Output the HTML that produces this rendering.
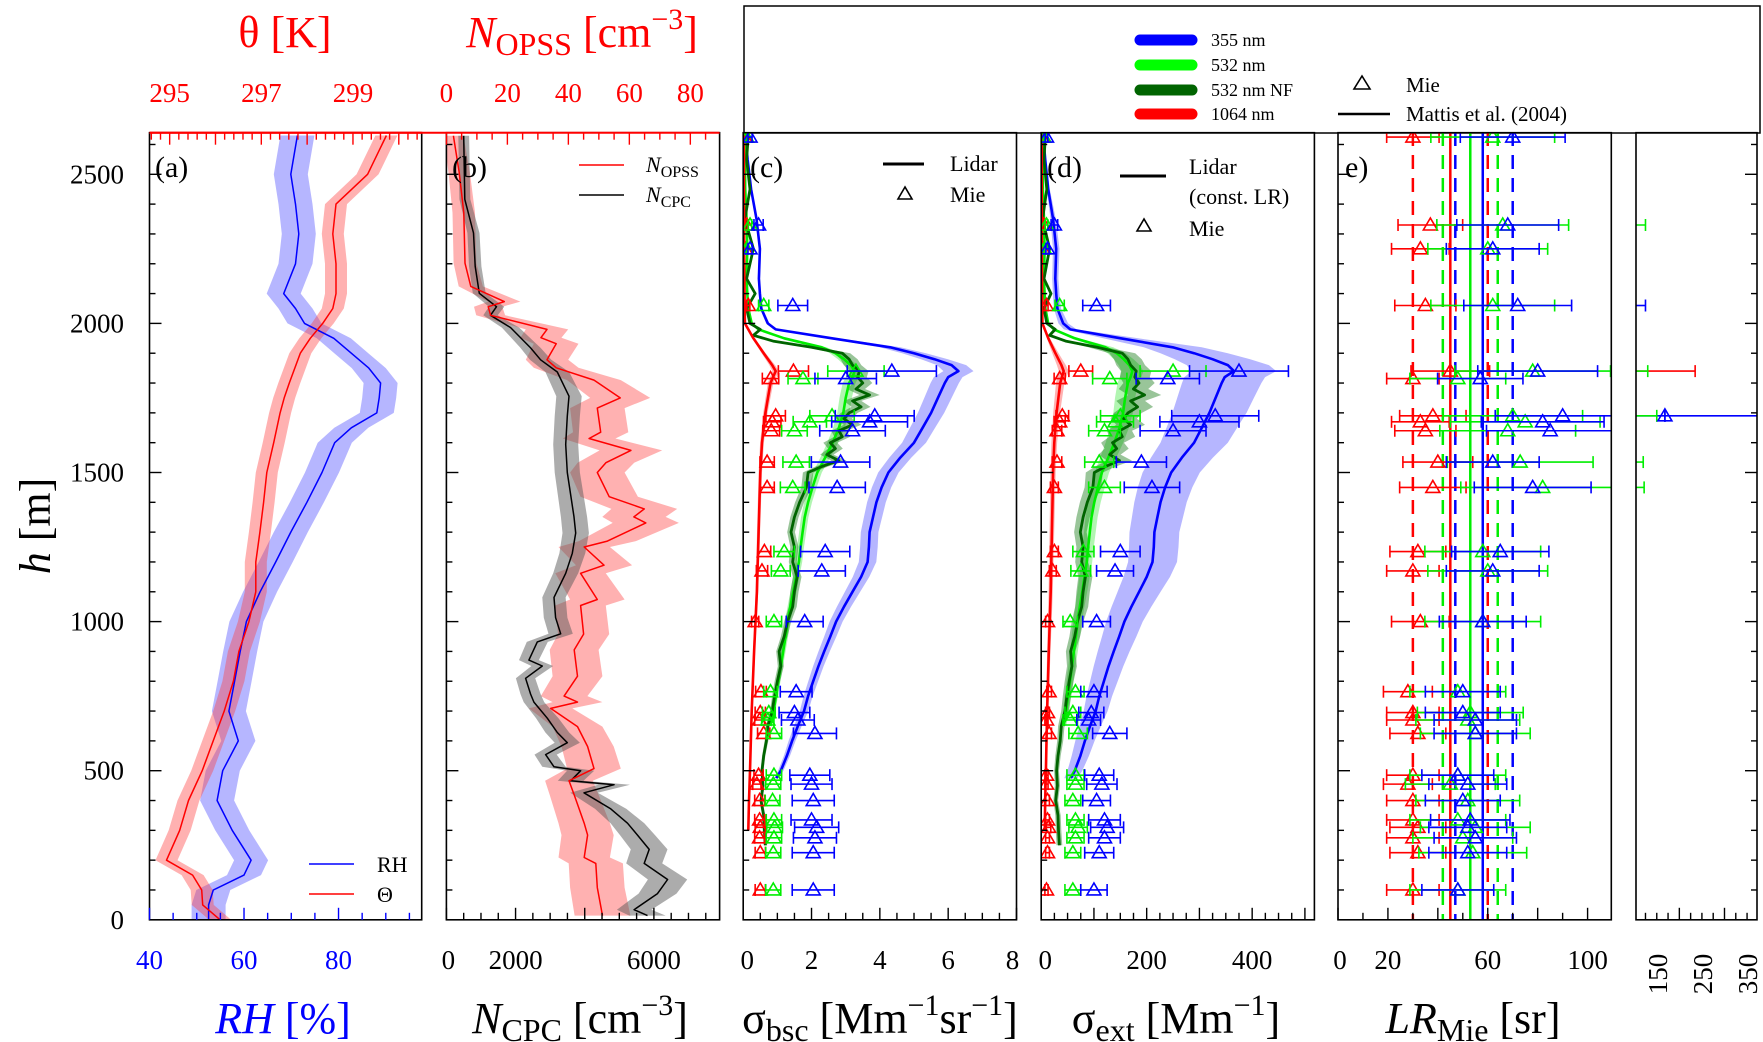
<!DOCTYPE html>
<html><head><meta charset="utf-8"><style>
body{margin:0;background:#fff;}
svg{display:block;font-family:"Liberation Serif",serif;}
</style></head><body>
<svg id="chart" width="1763" height="1042" viewBox="0 0 1763 1042" xmlns="http://www.w3.org/2000/svg">
<defs>
<clipPath id="clip-a"><rect x="149.5" y="132.7" width="272.2" height="787.1"/></clipPath>
<clipPath id="clip-b"><rect x="446.4" y="132.7" width="273.2" height="787.1"/></clipPath>
<clipPath id="clip-c"><rect x="743.2" y="132.7" width="273.3" height="787.1"/></clipPath>
<clipPath id="clip-d"><rect x="1041.2" y="132.7" width="273.2" height="787.1"/></clipPath>
<clipPath id="clip-e"><rect x="1338" y="132.7" width="273.3" height="787.1"/></clipPath>
<clipPath id="clip-f"><rect x="1636" y="132.7" width="121" height="787.1"/></clipPath>
</defs>
<rect x="744" y="6" width="1016" height="127" fill="none" stroke="#000" stroke-width="1.5"/>
<g font-size="18">
<line x1="1140" y1="40" x2="1192" y2="40" stroke="#0000ff" stroke-width="11" stroke-linecap="round"/>
<text x="1211" y="46">355 nm</text>
<line x1="1140" y1="65" x2="1192" y2="65" stroke="#00ff00" stroke-width="11" stroke-linecap="round"/>
<text x="1211" y="71">532 nm</text>
<line x1="1140" y1="90" x2="1192" y2="90" stroke="#006400" stroke-width="11" stroke-linecap="round"/>
<text x="1211" y="96">532 nm NF</text>
<line x1="1140" y1="114" x2="1192" y2="114" stroke="#ff0000" stroke-width="11" stroke-linecap="round"/>
<text x="1211" y="120">1064 nm</text>
<polygon points="1362,76 1354,89 1370,89" fill="none" stroke="#000" stroke-width="1.6"/>
<text x="1406" y="92" font-size="21">Mie</text>
<line x1="1338" y1="114" x2="1390" y2="114" stroke="#000" stroke-width="2.5"/>
<text x="1406" y="121" font-size="21">Mattis et al. (2004)</text>
</g>
<g font-size="44" fill="#ff0000">
<text x="285" y="47" text-anchor="middle">θ [K]</text>
<text x="582" y="47" text-anchor="middle"><tspan font-style="italic">N</tspan><tspan font-size="32" dy="8">OPSS</tspan><tspan dy="-8"> [cm</tspan><tspan font-size="30" dy="-18">−3</tspan><tspan dy="18">]</tspan></text>
</g>
<g font-size="44">
<text x="283" y="1033" text-anchor="middle" fill="#0000ff"><tspan font-style="italic">RH</tspan> [%]</text>
<text x="580" y="1033" text-anchor="middle"><tspan font-style="italic">N</tspan><tspan font-size="32" dy="8">CPC</tspan><tspan dy="-8"> [cm</tspan><tspan font-size="30" dy="-18">−3</tspan><tspan dy="18">]</tspan></text>
<text x="880" y="1033" text-anchor="middle">σ<tspan font-size="32" dy="8">bsc</tspan><tspan dy="-8"> [Mm</tspan><tspan font-size="30" dy="-18">−1</tspan><tspan dy="18">sr</tspan><tspan font-size="30" dy="-18">−1</tspan><tspan dy="18">]</tspan></text>
<text x="1176" y="1033" text-anchor="middle">σ<tspan font-size="32" dy="8">ext</tspan><tspan dy="-8"> [Mm</tspan><tspan font-size="30" dy="-18">−1</tspan><tspan dy="18">]</tspan></text>
<text x="1473" y="1033" text-anchor="middle"><tspan font-style="italic">LR</tspan><tspan font-size="32" dy="8">Mie</tspan><tspan dy="-8"> [sr]</tspan></text>
<text x="0" y="0" transform="translate(50,526) rotate(-90)" text-anchor="middle"><tspan font-style="italic">h</tspan> [m]</text>
</g>
<g id="plot"></g>
</svg>
<script>
// ---------- Data ----------
// Panel a
const hA=[2630,2500,2400,2300,2200,2100,2050,2000,1950,1900,1850,1800,1750,1700,1650,1600,1500,1400,1300,1200,1100,1000,900,800,700,600,500,400,300,200,150,100,50,0];
const rhVals=[71.3,69.9,70.9,71.6,70.9,68.4,70.9,72.8,79,82.7,86.4,88.9,88.6,88.1,82.7,79.2,76.5,73.3,69.9,66.7,63.4,60.5,59.2,58,56.8,58.8,55.5,54.3,57.5,61.5,60,53.5,52.5,52.5];
const thetaVals=[299.73,299.32,298.63,298.56,298.63,298.63,298.56,298.34,298.07,297.85,297.73,297.61,297.5,297.41,297.34,297.27,297.12,297.05,296.97,296.88,296.88,296.73,296.51,296.39,296.19,295.95,295.71,295.41,295.22,294.93,295.5,295.7,295.72,296.1];
// Panel b
const hOpss=[2629,2506,2371,2202,2124,2073,2056,2027,1980,1952,1932,1878,1851,1810,1750,1716,1635,1614,1574,1533,1500,1419,1378,1351,1331,1270,1250,1189,1162,1074,1054,958,905,817,750,730,709,648,581,507,466,419,324,284,209,189,108,14];
const opssVals=[2.3,4.2,5.7,6.1,8,19,13.7,14.5,33,31,36,33,36,48.4,57,49.5,50.6,46.8,60.5,52.3,49.5,53.4,64.9,61.5,65.4,52.8,45.2,51.7,44,49.5,44,45,41.9,43,38.6,43,34.2,43,46.3,48.4,40.2,41.9,45.2,46.3,45.2,49,49.5,51.2];
const hCpc=[2629,2416,2303,2191,2101,2056,2027,1986,1918,1878,1837,1756,1689,1594,1500,1351,1297,1229,1162,1081,1013,959,932,871,851,810,757,730,676,628,594,554,513,500,466,453,426,372,324,284,236,189,135,88,34,14];
const cpcVals=[500,533,783,833,950,1450,1275,1855,2434,2724,3207,3545,3497,3449,3497,3690,3738,3642,3449,3110,3159,3304,2628,2386,2772,2289,2434,2531,2917,3207,3497,2869,3110,3883,3594,4849,3980,4753,5236,5526,5864,5719,6395,6105,5429,5815];
// Panels c/d lidar profiles
const hL=[2630,2550,2450,2350,2250,2150,2100,2050,2000,1980,1950,1920,1900,1880,1860,1840,1820,1800,1750,1700,1650,1600,1550,1500,1450,1400,1350,1300,1250,1200,1150,1100,1050,1000,950,900,850,800,750,700,650,600,550,500,475];
const bsc355=[0.07,0.13,0.23,0.39,0.49,0.46,0.49,0.53,0.72,0.95,2.6,4.3,5.0,5.6,6.1,6.3,6.0,5.9,5.7,5.5,5.25,5.0,4.6,4.25,4.05,3.9,3.8,3.7,3.68,3.64,3.45,3.2,2.95,2.72,2.55,2.37,2.2,2.05,1.9,1.78,1.6,1.43,1.28,1.1,0.97];
const bsc532=[0.05,0.05,0.06,0.1,0.12,0.1,0.12,0.15,0.25,0.45,1.2,2.3,2.7,2.95,3.15,3.26,3.2,3.1,3.0,2.93,2.8,2.62,2.4,2.17,2.03,1.9,1.8,1.74,1.68,1.63,1.55,1.47,1.38,1.3,1.24,1.17,1.1,1.03,0.96,0.89,0.8,null,null,null,null];
const hR=[2630,2400,2200,2000,1950,1900,1860,1840,1800,1700,1600,1500,1300,1100,900,700,500,400,300];
const bsc1064=[0.02,0.02,0.03,0.05,0.3,0.6,0.85,0.95,0.8,0.65,0.55,0.5,0.45,0.4,0.32,0.25,0.2,0.17,0.15];
const hNF=[2630,2550,2450,2350,2250,2150,2100,2050,2000,1980,1960,1940,1920,1900,1880,1860,1840,1820,1800,1780,1760,1740,1720,1700,1680,1660,1640,1620,1600,1580,1560,1540,1520,1500,1450,1400,1350,1300,1250,1200,1150,1100,1050,1000,950,900,850,800,750,700,650,600,550,500,450,400,350,300,250];
const bscNF=[0.15,0.1,0.2,0.05,0.3,0.1,0.35,0.1,0.2,0.5,0.3,0.9,2.0,2.9,3.1,3.2,3.4,3.35,3.5,3.3,3.7,3.2,3.45,3.1,2.95,3.2,2.8,2.9,2.55,2.7,2.45,2.8,2.3,1.9,1.85,1.65,1.5,1.4,1.5,1.45,1.58,1.5,1.45,1.3,1.2,1.05,1.1,1.0,0.92,0.85,0.72,0.68,0.6,0.55,0.58,0.52,0.6,0.62,0.65];
// Mattis et al. (2004) lidar ratios: mean, low, high
const mattisMean=[58,53,45];
const mattisLow=[47,42,30];
const mattisHigh=[70,64,60];
// Mie values
const mieH=[2625,2330,2250,2060,1840,1815,1690,1670,1640,1535,1450,1235,1170,1000,765,695,670,625,485,455,400,335,310,275,225,100];
const mieBsc355=[0.2,0.45,0.2,1.45,4.35,3.0,3.85,3.7,3.2,2.85,2.75,2.4,2.3,1.8,1.55,1.5,1.6,2.1,1.95,2.0,2.05,2.0,2.15,2.1,2.05,2.05];
const mieBsc532=[0.1,0.2,0.1,0.6,3.3,1.75,2.6,1.95,1.5,1.55,1.45,1.2,1.1,0.9,0.8,0.75,0.72,0.9,0.9,0.88,0.86,0.9,0.92,0.9,0.88,0.88];
const mieBsc1064=[0.05,0.1,0.06,0.15,1.47,0.8,0.95,0.85,0.82,0.7,0.7,0.62,0.55,0.35,0.52,0.5,0.48,0.6,0.45,0.4,0.48,0.48,0.5,0.48,0.5,0.5];
const mieExt355=[10,25,12,105,375,240,330,300,250,190,210,150,140,105,100,95,90,130,110,115,105,120,125,120,110,100];
const mieExt532=[5,10,6,35,250,130,150,140,120,110,120,80,75,55,65,60,55,70,65,65,60,65,70,65,60,60];
const mieExt1064=[2,5,3,10,75,35,40,35,30,30,25,25,22,12,15,12,10,15,10,10,12,12,14,12,12,10];
const mieLR355=[70,68,62,72,80,57,90,82,85,62,78,65,62,58,50,50,55,55,48,52,50,53,52,55,52,48];
const mieLR532=[62,66,60,62,78,48,70,75,68,73,82,58,60,58,48,53,52,55,48,45,52,48,55,50,54,48];
const mieLR1064=[30,37,33,35,45,30,38,33,35,40,38,32,30,33,28,30,30,32,30,28,30,30,32,30,32,30];
// LR values beyond 110 sr (right panel)
const farH=[2330,2060,1840,1840,1690,1690,1535,1450];
const farVal=[125,125,235,130,168,150,120,122];
const farColor=['g','b','r','g','b','g','g','g'];

// ---------- Scales ----------
const NS='http://www.w3.org/2000/svg';
const root=document.getElementById('plot');
function mk(tag,attrs,parent){const e=document.createElementNS(NS,tag);for(const k in attrs)e.setAttribute(k,attrs[k]);(parent||root).appendChild(e);return e;}
const Y0=919.8,YS=0.2982;
function yOf(h){return Y0-h*YS;}
const P={
 a:{x0:149.5,x1:421.7,d:[40,97.6]}, aT:{x0:149.5,x1:421.7,d:[294.56,300.5]},
 b:{x0:446.4,x1:719.6,d:[0,7900]}, bT:{x0:446.4,x1:719.6,d:[0,89.6]},
 c:{x0:743.2,x1:1016.5,d:[0,8]}, d:{x0:1041.2,x1:1314.4,d:[0,518]},
 e:{x0:1338,x1:1611.3,d:[0,109.5]}, f:{x0:1636,x1:1757,d:[104,372]}};
function xOf(p,v){return p.x0+(v-p.d[0])/(p.d[1]-p.d[0])*(p.x1-p.x0);}
const COL={b:'#0000ff',g:'#00ee00',n:'#006400',r:'#ff0000',k:'#000000'};
const BAND={b:'rgba(80,80,255,0.42)',g:'rgba(60,230,60,0.4)',n:'rgba(0,110,0,0.4)',r:'rgba(255,60,60,0.4)',k:'rgba(90,90,90,0.5)'};

function group(clip){const g=mk('g',clip?{'clip-path':'url(#clip-'+clip+')'}:{});return g;}
function line(p,hs,vs,col,w,g){
 const pts=[];for(let i=0;i<hs.length;i++){if(vs[i]==null)continue;pts.push(xOf(p,vs[i]).toFixed(1)+','+yOf(hs[i]).toFixed(1));}
 return mk('polyline',{points:pts.join(' '),fill:'none',stroke:col,'stroke-width':w,'stroke-linejoin':'round'},g);}
function band(p,hs,vs,fr,ab,col,g){
 const a=[],b=[];for(let i=0;i<hs.length;i++){if(vs[i]==null)continue;const dv=Math.abs(vs[i])*fr+ab;a.push(xOf(p,vs[i]-dv).toFixed(1)+','+yOf(hs[i]).toFixed(1));b.unshift(xOf(p,vs[i]+dv).toFixed(1)+','+yOf(hs[i]).toFixed(1));}
 return mk('polygon',{points:a.concat(b).join(' '),fill:col,stroke:'none'},g);}
function tri(x,y,col,g){return mk('polygon',{points:`${x},${y-7} ${x-7},${y+5} ${x+7},${y+5}`,fill:'none',stroke:col,'stroke-width':1.6},g);}
function errbar(p,h,lo,hi,col,g){
 const y=yOf(h),x1=xOf(p,lo),x2=xOf(p,hi);
 mk('line',{x1:x1,y1:y,x2:x2,y2:y,stroke:col,'stroke-width':1.6},g);
 mk('line',{x1:x1,y1:y-6,x2:x1,y2:y+6,stroke:col,'stroke-width':1.6},g);
 mk('line',{x1:x2,y1:y-6,x2:x2,y2:y+6,stroke:col,'stroke-width':1.6},g);}

// ---------- Panel a ----------
let g=group('a');


band(P.a,hA,rhVals,0,3.6,BAND.b,g);
band(P.aT,hA,thetaVals,0,0.24,BAND.r,g);
let e=line(P.a,hA,rhVals,COL.b,1.5,g);


e=line(P.aT,hA,thetaVals,COL.r,1.5,g);



// ---------- Panel b ----------
g=group('b');


band(P.bT,hOpss,opssVals,0.12,3,BAND.r,g);
band(P.b,hCpc,cpcVals,0.07,120,BAND.k,g);
e=line(P.b,hCpc,cpcVals,COL.k,1.5,g);


e=line(P.bT,hOpss,opssVals,COL.r,1.5,g);



// ---------- Panels c & d ----------
function lidarPanel(p,clip,scale,fr){
 const gg=group(clip);
 
 
 const s=(arr,k)=>arr.map(v=>v==null?null:v*k);
 band(p,hL,s(bsc355,scale[0]),fr[0],0,BAND.b,gg);
 band(p,hL,s(bsc532,scale[1]),fr[1],0,BAND.g,gg);
 band(p,hNF,s(bscNF,scale[1]),fr[2],0,BAND.n,gg);
 band(p,hR,s(bsc1064,scale[2]),fr[3],0,BAND.r,gg);
 let l=line(p,hL,s(bsc355,scale[0]),COL.b,2.6,gg);
 
 
 l=line(p,hL,s(bsc532,scale[1]),COL.g,2.6,gg);
 
 
 l=line(p,hNF,s(bscNF,scale[1]),COL.n,2.8,gg);
 
 
 l=line(p,hR,s(bsc1064,scale[2]),COL.r,2.6,gg);
 
 
 return gg;}
const gc=lidarPanel(P.c,'c',[1,1,1],[0.07,0.06,0.08,0.1]);
const gd=lidarPanel(P.d,'d',mattisMean,[0.22,0.12,0.16,0.22]);

function miePanel(p,gg,sets,fr){
 for(let s=0;s<sets.length;s++){
  const [vals,col,name]=sets[s];
  for(let i=0;i<mieH.length;i++){
   const v=vals[i],dv=v*fr[s];
   errbar(p,mieH[i],v-dv,v+dv,COL[col],gg);
   const t=tri(xOf(p,v),yOf(mieH[i]),COL[col],gg);
   
   
  }}}
miePanel(P.c,gc,[[mieBsc1064,'r','1064'],[mieBsc532,'g','532'],[mieBsc355,'b','355']],[0.3,0.25,0.3]);
miePanel(P.d,gd,[[mieExt1064,'r','1064'],[mieExt532,'g','532'],[mieExt355,'b','355']],[0.3,0.25,0.25]);

// ---------- Panel e ----------
const ge=group('e');


const mCols=['b','g','r'];
for(let k=0;k<3;k++){
 const xm=xOf(P.e,mattisMean[k]);
 e=mk('line',{x1:xm,y1:132,x2:xm,y2:920,stroke:COL[mCols[k]],'stroke-width':2.5},ge);
 
 for(const v of [mattisLow[k],mattisHigh[k]]){
  const x=xOf(P.e,v);
  e=mk('line',{x1:x,y1:132,x2:x,y2:920,stroke:COL[mCols[k]],'stroke-width':2.5,'stroke-dasharray':'14,9'},ge);
  
 }}
miePanel(P.e,ge,[[mieLR1064,'r','1064'],[mieLR532,'g','532'],[mieLR355,'b','355']],[0.35,0.4,0.3]);

// ---------- Panel f ----------
const gf=group('f');


for(let i=0;i<farH.length;i++){
 const x=xOf(P.f,farVal[i]),y=yOf(farH[i]);
 e=mk('line',{x1:P.f.x0,y1:y,x2:x,y2:y,stroke:COL[farColor[i]],'stroke-width':1.6},gf);
 
 mk('line',{x1:x,y1:y-6,x2:x,y2:y+6,stroke:COL[farColor[i]],'stroke-width':1.6},gf);
}
e=tri(xOf(P.f,farVal[4]),yOf(farH[4]),COL.b,gf);

errbar(P.f,farH[4],farVal[4],390,COL.b,gf);

// ---------- Frames, ticks, labels ----------
const fr=mk('g',{});


for(const k of ['a','b','c','d','e','f']){
 const p=P[k];
 e=mk('rect',{x:p.x0,y:132.7,width:p.x1-p.x0,height:787.1,fill:'none',stroke:'#000','stroke-width':1.6},fr);
 
 // height ticks
 const right=(k==='f');
 for(let h=0;h<=2600;h+=100){
  const y=yOf(h),L=(h%500===0)?12:6;
  const x=right?p.x1:p.x0;
  mk('line',{x1:x,y1:y,x2:right?x-L:x+L,y2:y,stroke:'#000','stroke-width':1.4},fr);
 }}
function xticks(p,minor,major,y,dir,col){
 for(let v=Math.ceil(p.d[0]/minor)*minor;v<=p.d[1]+1e-9;v+=minor){
  const x=xOf(p,v),isM=Math.abs(v/major-Math.round(v/major))<1e-6;
  mk('line',{x1:x,y1:y,x2:x,y2:y+dir*(isM?12:7),stroke:col,'stroke-width':1.4},fr);
 }}
xticks(P.a,5,20,919.8,-1,'#0000ff');
xticks(P.aT,0.2,1,132.7,1,'#ff0000');
xticks(P.b,500,2000,919.8,-1,'#000');
xticks(P.bT,5,20,132.7,1,'#ff0000');
xticks(P.c,0.5,2,919.8,-1,'#000');
xticks(P.d,25,100,919.8,-1,'#000');
xticks(P.e,10,20,919.8,-1,'#000');
xticks(P.f,25,100,919.8,-1,'#000');
mk('line',{x1:P.aT.x0,y1:132.7,x2:P.bT.x1,y2:132.7,stroke:'#ff0000','stroke-width':2},fr);
mk('line',{x1:P.a.x0,y1:132.7,x2:P.a.x1,y2:132.7,stroke:'#ff0000','stroke-width':2},fr);

const tl=mk('g',{'font-size':27});


function lab(x,y,t,col,anchor,rot){
 const a={x:x,y:y,fill:col||'#000','text-anchor':anchor||'middle'};
 if(rot)a.transform=`rotate(-90 ${x} ${y})`;
 const e=mk('text',a,tl);e.textContent=t;return e;}
for(let h=0;h<=2500;h+=500)lab(124,yOf(h)+9,String(h),'#000','end');
for(const v of [40,60,80])lab(xOf(P.a,v),969,String(v),'#0000ff');
for(const v of [295,297,299])lab(xOf(P.aT,v),102,String(v),'#ff0000');
for(const v of [0,20,40,60,80])lab(xOf(P.bT,v),102,String(v),'#ff0000');
for(const v of [0,2000,6000])lab(xOf(P.b,v)+(v===0?2:0),969,String(v));
for(const v of [0,2,4,6,8])lab(xOf(P.c,v)+(v===0?4:(v===8?-4:0)),969,String(v));
for(const v of [0,200,400])lab(xOf(P.d,v)+(v===0?4:0),969,String(v));
for(const v of [0,20,60,100])lab(xOf(P.e,v)+(v===0?2:0),969,String(v));
for(const v of [150,250,350])lab(xOf(P.f,v)+10,974,String(v),'#000','middle',true);

// ---------- In-panel labels & legends ----------
const pl=mk('g',{'font-size':30});


[['(a)',155],['(b)',452],['(c)',750],['(d)',1047],['e)',1345]].forEach(([t,x])=>{const e=mk('text',{x:x,y:177},pl);e.textContent=t;});
const lg=mk('g',{'font-size':22});


mk('line',{x1:309,y1:864,x2:354,y2:864,stroke:COL.b,'stroke-width':1.6},lg);
lab(377,872,'RH','#000','start').setAttribute('font-size','22');
mk('line',{x1:309,y1:894,x2:354,y2:894,stroke:COL.r,'stroke-width':1.6},lg);
lab(377,902,'Θ','#000','start').setAttribute('font-size','22');
mk('line',{x1:579,y1:165,x2:624,y2:165,stroke:COL.r,'stroke-width':1.6},lg);
e=mk('text',{x:646,y:172,'font-size':22},lg);
e.innerHTML='<tspan font-style="italic">N</tspan><tspan font-size="16" dy="5">OPSS</tspan>';
mk('line',{x1:579,y1:195,x2:624,y2:195,stroke:COL.k,'stroke-width':1.6},lg);
e=mk('text',{x:646,y:202,'font-size':22},lg);
e.innerHTML='<tspan font-style="italic">N</tspan><tspan font-size="16" dy="5">CPC</tspan>';
mk('line',{x1:883,y1:164,x2:924,y2:164,stroke:'#000','stroke-width':3},lg);
lab(950,171,'Lidar','#000','start').setAttribute('font-size','22');
tri(905,194,'#000',lg);
lab(950,202,'Mie','#000','start').setAttribute('font-size','22');
mk('line',{x1:1120,y1:176,x2:1166,y2:176,stroke:'#000','stroke-width':3},lg);
lab(1189,174,'Lidar','#000','start').setAttribute('font-size','22');
lab(1189,204,'(const. LR)','#000','start').setAttribute('font-size','22');
tri(1144,226,'#000',lg);
lab(1189,236,'Mie','#000','start').setAttribute('font-size','22');
</script>
</body></html>
